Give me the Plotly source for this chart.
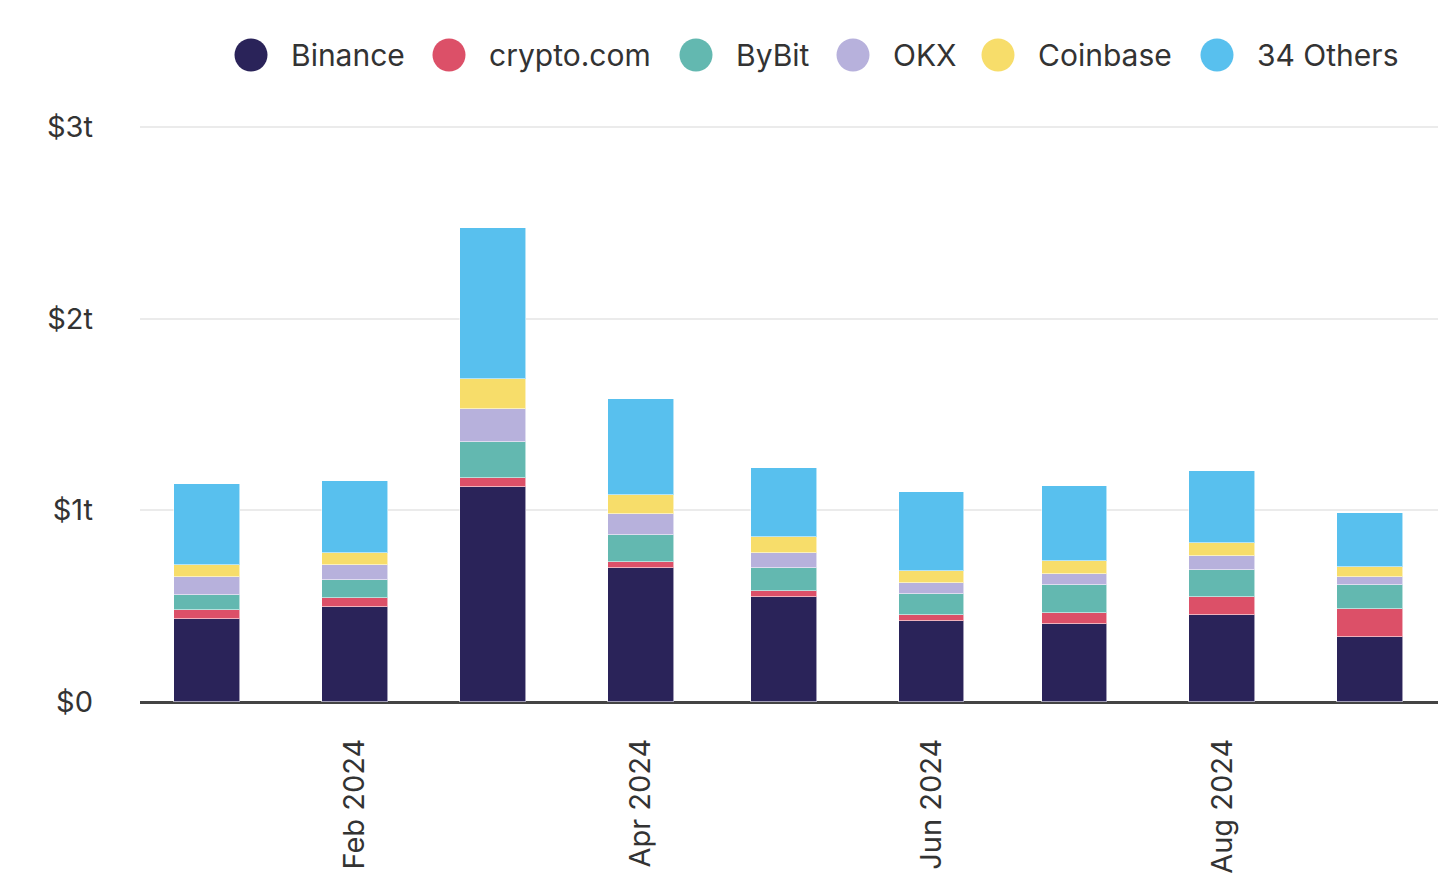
import plotly.graph_objects as go

months = ["2024-01-01", "2024-02-01", "2024-03-01", "2024-04-01", "2024-05-01",
          "2024-06-01", "2024-07-01", "2024-08-01", "2024-09-01"]

# Spot volume, trillions of USD
binance = [0.431, 0.496, 1.122, 0.701, 0.546, 0.421, 0.405, 0.452, 0.341]
crypto_com = [0.047, 0.047, 0.047, 0.031, 0.031, 0.031, 0.061, 0.094, 0.143]
bybit = [0.080, 0.093, 0.189, 0.141, 0.124, 0.110, 0.142, 0.141, 0.125]
okx = [0.094, 0.079, 0.171, 0.109, 0.078, 0.060, 0.061, 0.076, 0.045]
coinbase = [0.061, 0.062, 0.158, 0.096, 0.080, 0.063, 0.065, 0.065, 0.049]
others = [0.426, 0.378, 0.784, 0.501, 0.360, 0.409, 0.391, 0.375, 0.281]

series_names = ["Binance", "crypto.com", "ByBit", "OKX", "Coinbase", "34 Others"]
series_values = [binance, crypto_com, bybit, okx, coinbase, others]
colors = ["#2a2359", "#dc5068", "#63b8b0", "#b7b1dc", "#f7dd6a", "#58c0ee"]

y_tickvals = [0, 1, 2, 3]
y_ticktext = ["$0", "$1t", "$2t", "$3t"]
x_tickvals = ["2024-02-01", "2024-04-01", "2024-06-01", "2024-08-01"]
x_ticktext = ["Feb 2024", "Apr 2024", "Jun 2024", "Aug 2024"]

FONT = "Inter, Roboto, sans-serif"
TEXT = "#333333"
W, H = 1438, 888
ML, MR, MT, MB = 140, 0, 110, 186
PW, PH = W - ML - MR, H - MT - MB

fig = go.Figure()
bar_width = 13.8 * 86400000
for name, vals, col in zip(series_names, series_values, colors):
    fig.add_trace(go.Bar(
        x=months, y=vals, name=name, width=bar_width,
        marker=dict(color=col, line=dict(color="rgba(255,255,255,0.55)", width=1)),
        showlegend=False,
    ))


def px_x(p):
    return (p - ML) / PW


def px_y(p):
    return (H - MB - p) / PH


# Custom legend with large round markers
legend_cx = [251, 449, 696, 853, 998, 1217]
legend_cy = 55
r = 16.5
shapes = []
annotations = []
for name, col, cx in zip(series_names, colors, legend_cx):
    shapes.append(dict(type="circle", xref="paper", yref="paper",
                       x0=px_x(cx - r), x1=px_x(cx + r),
                       y0=px_y(legend_cy + r), y1=px_y(legend_cy - r),
                       fillcolor=col, line=dict(width=0)))
    annotations.append(dict(xref="paper", yref="paper", x=px_x(cx + 38), y=px_y(legend_cy),
                            text=name, showarrow=False, xanchor="left", yanchor="middle",
                            font=dict(family=FONT, size=30, color=TEXT)))

fig.update_layout(
    barmode="stack",
    width=W, height=H,
    margin=dict(l=ML, r=MR, t=MT, b=MB),
    plot_bgcolor="white", paper_bgcolor="white",
    font=dict(family=FONT, color=TEXT, size=26),
    shapes=shapes, annotations=annotations,
    bargap=0,
)
fig.update_xaxes(
    type="date",
    range=["2023-12-17 22:00", "2024-09-15 06:00"],
    tickvals=x_tickvals, ticktext=x_ticktext, tickangle=-90,
    tickfont=dict(family=FONT, size=29, color=TEXT),
    showgrid=False, zeroline=False, showline=False,
    ticks="", ticklabelstandoff=30,
)
fig.update_yaxes(
    range=[0, PH / 191.7],
    tickvals=y_tickvals, ticktext=y_ticktext,
    tickfont=dict(family=FONT, size=29, color=TEXT),
    showgrid=True, gridcolor="#ebebeb", gridwidth=2,
    zeroline=True, zerolinecolor="#444444", zerolinewidth=3,
    showline=False, ticks="", ticklabelstandoff=46,
)

fig.write_html(
    "out.html",
    config={"displayModeBar": False},
    post_script="document.body.style.margin='0';document.body.style.overflow='hidden';",
)
